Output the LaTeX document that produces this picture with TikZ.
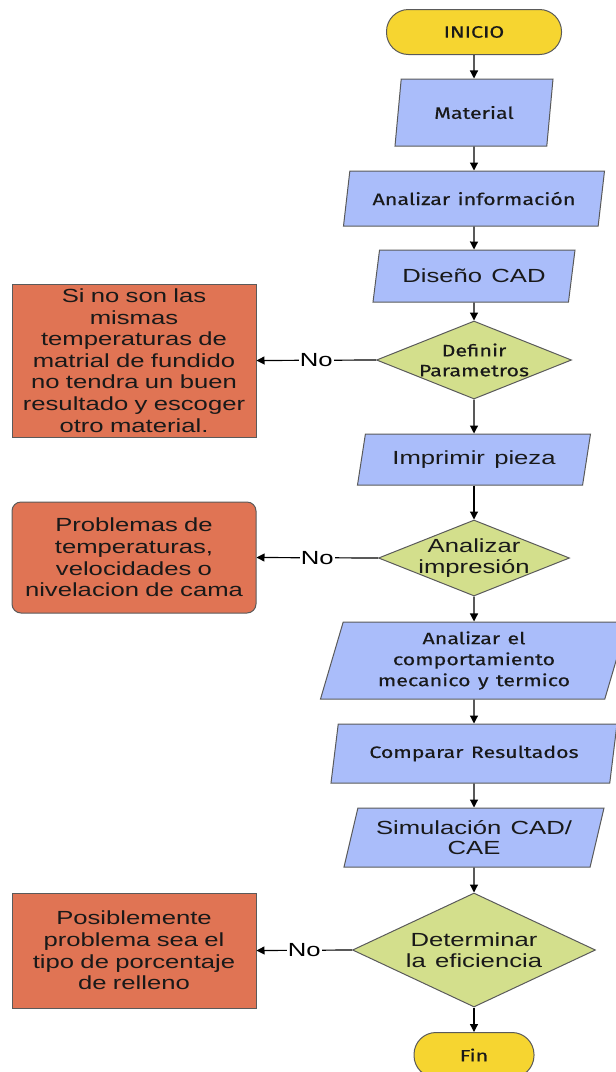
\documentclass[tikz,border=0pt]{standalone}
\usepackage{fontspec}
\setmainfont{Liberation Sans}[FakeStretch=1.35,WordSpace=1.3]
\newfontfamily\dinfont{Fira Sans}[FakeStretch=1.3,WordSpace=1.3,FakeBold=0.3]
\usepackage{xcolor}
\usepackage{tikz}
\usetikzlibrary{shapes.geometric,arrows.meta}

\definecolor{amarillo}{HTML}{F6D530}
\definecolor{azul}{HTML}{AABDFA}
\definecolor{verde}{HTML}{D3DF8C}
\definecolor{rojo}{HTML}{E07454}
\definecolor{borde}{HTML}{5A5A5A}

\newcommand{\grande}{\fontsize{19}{21.6}\selectfont}
\newcommand{\din}{\dinfont\fontsize{16.5}{21}\selectfont}

\tikzset{
	base/.style={draw=borde, line width=1pt, text=black!90, align=center, inner sep=2pt},
	terminal/.style={base, fill=amarillo, rectangle, rounded corners=22pt, minimum height=45pt, font=\din},
	datos/.style={base, fill=azul, trapezium, trapezium left angle=70, trapezium right angle=110, trapezium stretches body},
	decide/.style={base, fill=verde, diamond, inner sep=0pt},
	falla/.style={base, fill=rojo, rectangle, minimum width=244pt, text width=236pt, font=\grande},
	flecha/.style={-{Triangle[length=8pt,width=8pt]}, line width=1.2pt, black},
}

\begin{document}
\begin{tikzpicture}[x=1pt,y=-1pt]
	\useasboundingbox (0,0) rectangle (616,1072);
	% columna principal
	\node[terminal, minimum width=175pt] (inicio) at (474,32) {INICIO};
	\node[datos, minimum width=158pt, minimum height=67pt, font=\din] (material) at (474,112.5) {Material};
	\node[datos, minimum width=261pt, minimum height=55pt, font=\din] (info) at (474,198.5) {Analizar información};
	\node[datos, minimum width=202pt, minimum height=52pt, font=\grande] (cad) at (474,276) {Diseño CAD};
	\node[decide, minimum width=195pt, minimum height=78pt, aspect=2.5, font={\dinfont\fontsize{16.5}{20}\selectfont}] (param) at (474,360) {Definir\\Parametros};
	\node[datos, minimum width=233pt, minimum height=51pt, font=\grande] (imprimir) at (474,459.5) {Imprimir pieza};
	\node[decide, minimum width=191pt, minimum height=76pt, aspect=2.6, inner xsep=-15pt, font=\grande] (impresion) at (474,558) {Analizar\\impresión};
	\node[datos, minimum width=307pt, minimum height=77pt, font=\din] (comport) at (474,660.5) {Analizar el\\comportamiento\\mecanico y termico};
	\node[datos, minimum width=286pt, minimum height=59pt, font=\din] (comparar) at (474,753.5) {Comparar Resultados};
	\node[datos, minimum width=260pt, minimum height=59pt, font={\fontsize{19}{20}\selectfont}] (simul) at (474,837.5) {Simulación CAD/\\CAE};
	\node[decide, minimum width=243pt, minimum height=114pt, aspect=2.1, font=\grande] (eficiencia) at (474,950) {Determinar\\la eficiencia};
	\node[terminal, minimum width=120pt] (fin) at (474,1055) {Fin};
	% cajas de falla
	\node[falla, minimum height=153pt] (falla1) at (134,360.5) {Si no son las\\mismas\\temperaturas de\\matrial de fundido\\no tendra un buen\\resultado y escoger\\otro material.};
	\node[falla, minimum height=111pt, rounded corners=9pt] (falla2) at (134,557.5) {Problemas de\\temperaturas,\\velocidades o\\nivelacion de cama};
	\node[falla, minimum height=115pt] (falla3) at (134,950.5) {Posiblemente\\problema sea el\\tipo de porcentaje\\de relleno};
	% flechas
	\draw[flecha] (inicio) -- (material);
	\draw[flecha] (material) -- (info);
	\draw[flecha] (info) -- (cad);
	\draw[flecha] (cad) -- (param);
	\draw[flecha] (param) -- (imprimir);
	\draw[flecha] (imprimir) -- (impresion);
	\draw[flecha] (impresion) -- (comport);
	\draw[flecha] (comport) -- (comparar);
	\draw[flecha] (comparar) -- (simul);
	\draw[flecha] (simul) -- (eficiencia);
	\draw[flecha] (eficiencia) -- (fin);
	\draw[flecha] (param.west) -- node[fill=white, inner sep=1pt, font=\grande] {No} (falla1.east);
	\draw[flecha] (impresion.west) -- node[fill=white, inner sep=1pt, font=\grande] {No} (falla2.east);
	\draw[flecha] (eficiencia.west) -- node[fill=white, inner sep=1pt, font=\grande] {No} (falla3.east);
\end{tikzpicture}
\end{document}
